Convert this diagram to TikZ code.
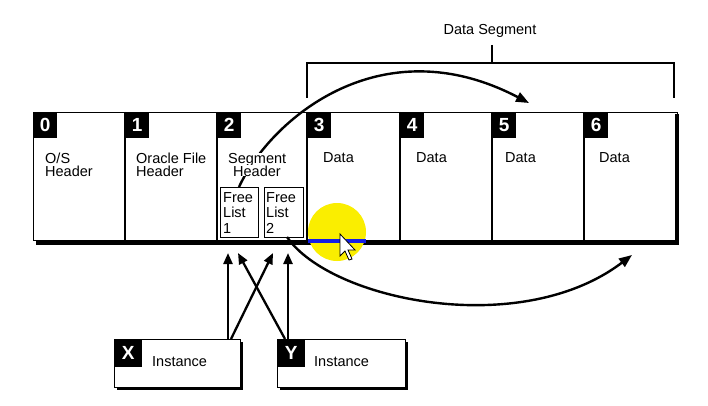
\documentclass[tikz,border=0pt]{standalone}
\usepackage{fontspec}
\setmainfont{Liberation Sans}
\usetikzlibrary{arrows.meta}
\definecolor{hiyellow}{RGB}{250,238,0}
\definecolor{hiblue}{RGB}{20,30,230}
\begin{document}
\begin{tikzpicture}[x=1pt,y=-1pt,
  numbox/.style={fill=black,text=white,font=\bfseries\fontsize{19}{19}\selectfont,minimum width=24pt,minimum height=26pt,inner sep=0pt,anchor=north west},
  lbl/.style={font=\fontsize{14.5}{14.5}\selectfont,anchor=base west,inner sep=0pt,fill=white},
  thin/.style={line width=1.3pt},
  conn/.style={line width=2.3pt,-{Triangle[length=11pt,width=9pt]}},
  curv/.style={line width=2.4pt,-{Triangle[length=13pt,width=10pt]}}]
\useasboundingbox (0,0) rectangle (708,406);
\fill[white] (0,0) rectangle (708,406);
% strip
\node[draw,thin,minimum width=644pt,minimum height=128pt,inner sep=0pt,anchor=north west] (strip) at (33,112) {};
\foreach \x in {125,217,307,400,492,584}{\draw[thin] (\x,112) -- (\x,240);}
\draw[line width=5pt] (36,242) -- (679,242);
\draw[line width=4pt] (677,114) -- (677,244);
% number boxes
\node[numbox] (n0) at (33,112) {0};
\node[numbox] (n1) at (125,112) {1};
\node[numbox] (n2) at (217,112) {2};
\node[numbox] (n3) at (307,112) {3};
\node[numbox] (n4) at (400,112) {4};
\node[numbox] (n5) at (492,112) {5};
\node[numbox] (n6) at (584,112) {6};
% free lists
\node[draw,thin,minimum width=38pt,minimum height=50pt,inner sep=0pt,anchor=north west] (fl1) at (220,187) {};
\node[draw,thin,minimum width=39pt,minimum height=50pt,inner sep=0pt,anchor=north west] (fl2) at (264,187) {};
% curve 1 (behind text)
\coordinate (c1s) at (239,187);
\coordinate (c1e) at (529,103);
\draw[curv] (c1s) .. controls (270,120) and (380,25) .. (c1e);
% texts
\node[lbl] (t0a) at (45,163) {O/S};
\node[lbl] (t0b) at (45,176) {Header};
\node[lbl] (t1a) at (136,163) {Oracle File};
\node[lbl] (t1b) at (136,176) {Header};
\node[lbl] (t2a) at (228,163) {Segment};
\node[lbl] (t2b) at (233,176) {Header};
\node[lbl] (t3) at (323,162) {Data};
\node[lbl] (t4) at (416,162) {Data};
\node[lbl] (t5) at (505,162) {Data};
\node[lbl] (t6) at (599,162) {Data};
\node[lbl] (f1a) at (223,202) {Free};
\node[lbl] (f1b) at (223,217) {List};
\node[lbl] (f1c) at (223,233) {1};
\node[lbl] (f2a) at (266,202) {Free};
\node[lbl] (f2b) at (266,217) {List};
\node[lbl] (f2c) at (266,233) {2};
% data segment bracket
\node[font=\fontsize{14.5}{14.5}\selectfont,inner sep=0pt] (ds) at (490,31) {Data Segment};
\draw[thin] (492,45) -- (492,63);
\draw[thin] (307,98) -- (307,63) -- (674,63) -- (674,98);
% curve 2
\coordinate (c2s) at (287,237);
\coordinate (c2e) at (632,255);
\draw[curv] (c2s) .. controls (330,300) and (520,340) .. (c2e);
% instance boxes
\fill[black] (117,342) rectangle (243,390);
\node[draw,thin,fill=white,minimum width=126pt,minimum height=48pt,inner sep=0pt,anchor=north west] (ix) at (114,339) {};
\node[numbox,minimum width=28pt,minimum height=28pt] (xl) at (114,339) {X};
\node[lbl] (xt) at (152,366) {Instance};
\fill[black] (280,342) rectangle (408,390);
\node[draw,thin,fill=white,minimum width=128pt,minimum height=48pt,inner sep=0pt,anchor=north west] (iy) at (277,339) {};
\node[numbox,minimum width=28pt,minimum height=28pt] (yl) at (277,339) {Y};
\node[lbl] (yt) at (314,366) {Instance};
% instance arrows
\coordinate (xs1) at (228,339);
\coordinate (xs2) at (231,339);
\coordinate (ys1) at (285,339);
\coordinate (ys2) at (288,339);
\coordinate (a1) at (228,253);
\coordinate (a2) at (238,253);
\coordinate (a3) at (273,253);
\coordinate (a4) at (288,253);
\draw[conn] (xs1) -- (a1);
\draw[conn] (xs2) -- (a3);
\draw[conn] (ys1) -- (a2);
\draw[conn] (ys2) -- (a4);
% highlight and cursor
\fill[hiyellow] (337,232) circle (29);
\draw[hiblue,line width=4.5pt] (308,241) -- (366,241);
\draw[black,fill=white,line width=0.8pt] (340,234) -- (340,256) -- (345,251) -- (349,260) -- (352,259) -- (348,250) -- (355,250) -- cycle;
\end{tikzpicture}
\end{document}
